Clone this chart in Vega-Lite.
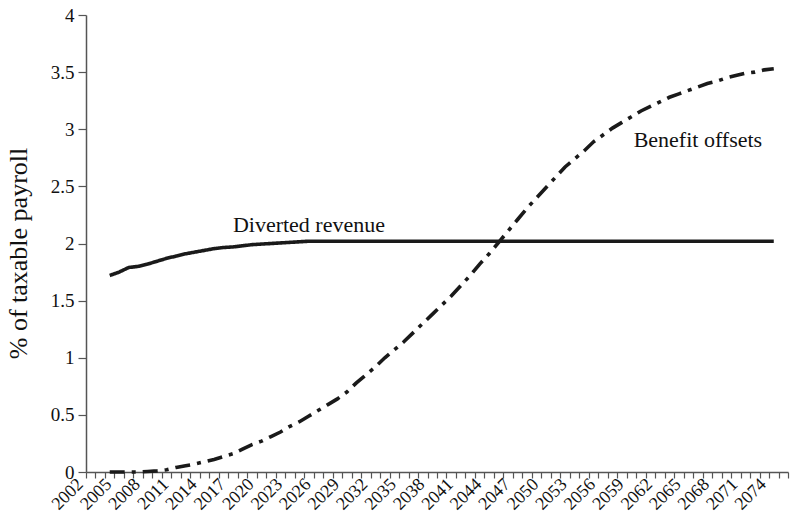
{
  "$schema": "https://vega.github.io/schema/vega-lite/v6.json",
  "width": 702,
  "height": 457,
  "autosize": {"type": "none"},
  "padding": {"left": 86, "top": 15, "right": 4, "bottom": 53},
  "background": "white",
  "config": {
    "view": {"stroke": null},
    "font": "Liberation Serif",
    "axis": {"grid": false, "domainColor": "#555", "tickColor": "#555", "domainWidth": 1.5, "tickWidth": 1.2, "labelColor": "#111", "titleColor": "#111", "labelFont": "Liberation Serif", "titleFont": "Liberation Serif", "titleFontWeight": "normal"}
  },
  "datasets": {
    "series": [
      {"year": 2004, "series": "Diverted revenue", "value": 1.72},
      {"year": 2005, "series": "Diverted revenue", "value": 1.75},
      {"year": 2006, "series": "Diverted revenue", "value": 1.79},
      {"year": 2007, "series": "Diverted revenue", "value": 1.80},
      {"year": 2008, "series": "Diverted revenue", "value": 1.82},
      {"year": 2009, "series": "Diverted revenue", "value": 1.845},
      {"year": 2010, "series": "Diverted revenue", "value": 1.87},
      {"year": 2011, "series": "Diverted revenue", "value": 1.89},
      {"year": 2012, "series": "Diverted revenue", "value": 1.91},
      {"year": 2013, "series": "Diverted revenue", "value": 1.925},
      {"year": 2014, "series": "Diverted revenue", "value": 1.94},
      {"year": 2015, "series": "Diverted revenue", "value": 1.955},
      {"year": 2016, "series": "Diverted revenue", "value": 1.965},
      {"year": 2017, "series": "Diverted revenue", "value": 1.97},
      {"year": 2018, "series": "Diverted revenue", "value": 1.98},
      {"year": 2019, "series": "Diverted revenue", "value": 1.99},
      {"year": 2020, "series": "Diverted revenue", "value": 1.995},
      {"year": 2021, "series": "Diverted revenue", "value": 2.0},
      {"year": 2022, "series": "Diverted revenue", "value": 2.005},
      {"year": 2023, "series": "Diverted revenue", "value": 2.01},
      {"year": 2024, "series": "Diverted revenue", "value": 2.015},
      {"year": 2025, "series": "Diverted revenue", "value": 2.02},
      {"year": 2026, "series": "Diverted revenue", "value": 2.02},
      {"year": 2027, "series": "Diverted revenue", "value": 2.02},
      {"year": 2028, "series": "Diverted revenue", "value": 2.02},
      {"year": 2029, "series": "Diverted revenue", "value": 2.02},
      {"year": 2030, "series": "Diverted revenue", "value": 2.02},
      {"year": 2031, "series": "Diverted revenue", "value": 2.02},
      {"year": 2032, "series": "Diverted revenue", "value": 2.02},
      {"year": 2033, "series": "Diverted revenue", "value": 2.02},
      {"year": 2034, "series": "Diverted revenue", "value": 2.02},
      {"year": 2035, "series": "Diverted revenue", "value": 2.02},
      {"year": 2036, "series": "Diverted revenue", "value": 2.02},
      {"year": 2037, "series": "Diverted revenue", "value": 2.02},
      {"year": 2038, "series": "Diverted revenue", "value": 2.02},
      {"year": 2039, "series": "Diverted revenue", "value": 2.02},
      {"year": 2040, "series": "Diverted revenue", "value": 2.02},
      {"year": 2041, "series": "Diverted revenue", "value": 2.02},
      {"year": 2042, "series": "Diverted revenue", "value": 2.02},
      {"year": 2043, "series": "Diverted revenue", "value": 2.02},
      {"year": 2044, "series": "Diverted revenue", "value": 2.02},
      {"year": 2045, "series": "Diverted revenue", "value": 2.02},
      {"year": 2046, "series": "Diverted revenue", "value": 2.02},
      {"year": 2047, "series": "Diverted revenue", "value": 2.02},
      {"year": 2048, "series": "Diverted revenue", "value": 2.02},
      {"year": 2049, "series": "Diverted revenue", "value": 2.02},
      {"year": 2050, "series": "Diverted revenue", "value": 2.02},
      {"year": 2051, "series": "Diverted revenue", "value": 2.02},
      {"year": 2052, "series": "Diverted revenue", "value": 2.02},
      {"year": 2053, "series": "Diverted revenue", "value": 2.02},
      {"year": 2054, "series": "Diverted revenue", "value": 2.02},
      {"year": 2055, "series": "Diverted revenue", "value": 2.02},
      {"year": 2056, "series": "Diverted revenue", "value": 2.02},
      {"year": 2057, "series": "Diverted revenue", "value": 2.02},
      {"year": 2058, "series": "Diverted revenue", "value": 2.02},
      {"year": 2059, "series": "Diverted revenue", "value": 2.02},
      {"year": 2060, "series": "Diverted revenue", "value": 2.02},
      {"year": 2061, "series": "Diverted revenue", "value": 2.02},
      {"year": 2062, "series": "Diverted revenue", "value": 2.02},
      {"year": 2063, "series": "Diverted revenue", "value": 2.02},
      {"year": 2064, "series": "Diverted revenue", "value": 2.02},
      {"year": 2065, "series": "Diverted revenue", "value": 2.02},
      {"year": 2066, "series": "Diverted revenue", "value": 2.02},
      {"year": 2067, "series": "Diverted revenue", "value": 2.02},
      {"year": 2068, "series": "Diverted revenue", "value": 2.02},
      {"year": 2069, "series": "Diverted revenue", "value": 2.02},
      {"year": 2070, "series": "Diverted revenue", "value": 2.02},
      {"year": 2071, "series": "Diverted revenue", "value": 2.02},
      {"year": 2072, "series": "Diverted revenue", "value": 2.02},
      {"year": 2073, "series": "Diverted revenue", "value": 2.02},
      {"year": 2074, "series": "Diverted revenue", "value": 2.02},
      {"year": 2004, "series": "Benefit offsets", "value": 0.0},
      {"year": 2005, "series": "Benefit offsets", "value": 0.0},
      {"year": 2006, "series": "Benefit offsets", "value": 0.0},
      {"year": 2007, "series": "Benefit offsets", "value": 0.0},
      {"year": 2008, "series": "Benefit offsets", "value": 0.005},
      {"year": 2009, "series": "Benefit offsets", "value": 0.01},
      {"year": 2010, "series": "Benefit offsets", "value": 0.02},
      {"year": 2011, "series": "Benefit offsets", "value": 0.04},
      {"year": 2012, "series": "Benefit offsets", "value": 0.055},
      {"year": 2013, "series": "Benefit offsets", "value": 0.07},
      {"year": 2014, "series": "Benefit offsets", "value": 0.09},
      {"year": 2015, "series": "Benefit offsets", "value": 0.11},
      {"year": 2016, "series": "Benefit offsets", "value": 0.135},
      {"year": 2017, "series": "Benefit offsets", "value": 0.16},
      {"year": 2018, "series": "Benefit offsets", "value": 0.2},
      {"year": 2019, "series": "Benefit offsets", "value": 0.24},
      {"year": 2020, "series": "Benefit offsets", "value": 0.27},
      {"year": 2021, "series": "Benefit offsets", "value": 0.31},
      {"year": 2022, "series": "Benefit offsets", "value": 0.35},
      {"year": 2023, "series": "Benefit offsets", "value": 0.4},
      {"year": 2024, "series": "Benefit offsets", "value": 0.44},
      {"year": 2025, "series": "Benefit offsets", "value": 0.49},
      {"year": 2026, "series": "Benefit offsets", "value": 0.54},
      {"year": 2027, "series": "Benefit offsets", "value": 0.59},
      {"year": 2028, "series": "Benefit offsets", "value": 0.64},
      {"year": 2029, "series": "Benefit offsets", "value": 0.7},
      {"year": 2030, "series": "Benefit offsets", "value": 0.78},
      {"year": 2031, "series": "Benefit offsets", "value": 0.85},
      {"year": 2032, "series": "Benefit offsets", "value": 0.92},
      {"year": 2033, "series": "Benefit offsets", "value": 1.0},
      {"year": 2034, "series": "Benefit offsets", "value": 1.07},
      {"year": 2035, "series": "Benefit offsets", "value": 1.14},
      {"year": 2036, "series": "Benefit offsets", "value": 1.22},
      {"year": 2037, "series": "Benefit offsets", "value": 1.3},
      {"year": 2038, "series": "Benefit offsets", "value": 1.38},
      {"year": 2039, "series": "Benefit offsets", "value": 1.46},
      {"year": 2040, "series": "Benefit offsets", "value": 1.54},
      {"year": 2041, "series": "Benefit offsets", "value": 1.63},
      {"year": 2042, "series": "Benefit offsets", "value": 1.72},
      {"year": 2043, "series": "Benefit offsets", "value": 1.82},
      {"year": 2044, "series": "Benefit offsets", "value": 1.91},
      {"year": 2045, "series": "Benefit offsets", "value": 2.01},
      {"year": 2046, "series": "Benefit offsets", "value": 2.11},
      {"year": 2047, "series": "Benefit offsets", "value": 2.21},
      {"year": 2048, "series": "Benefit offsets", "value": 2.31},
      {"year": 2049, "series": "Benefit offsets", "value": 2.4},
      {"year": 2050, "series": "Benefit offsets", "value": 2.49},
      {"year": 2051, "series": "Benefit offsets", "value": 2.58},
      {"year": 2052, "series": "Benefit offsets", "value": 2.67},
      {"year": 2053, "series": "Benefit offsets", "value": 2.74},
      {"year": 2054, "series": "Benefit offsets", "value": 2.81},
      {"year": 2055, "series": "Benefit offsets", "value": 2.89},
      {"year": 2056, "series": "Benefit offsets", "value": 2.95},
      {"year": 2057, "series": "Benefit offsets", "value": 3.01},
      {"year": 2058, "series": "Benefit offsets", "value": 3.06},
      {"year": 2059, "series": "Benefit offsets", "value": 3.11},
      {"year": 2060, "series": "Benefit offsets", "value": 3.16},
      {"year": 2061, "series": "Benefit offsets", "value": 3.2},
      {"year": 2062, "series": "Benefit offsets", "value": 3.24},
      {"year": 2063, "series": "Benefit offsets", "value": 3.28},
      {"year": 2064, "series": "Benefit offsets", "value": 3.31},
      {"year": 2065, "series": "Benefit offsets", "value": 3.34},
      {"year": 2066, "series": "Benefit offsets", "value": 3.37},
      {"year": 2067, "series": "Benefit offsets", "value": 3.4},
      {"year": 2068, "series": "Benefit offsets", "value": 3.42},
      {"year": 2069, "series": "Benefit offsets", "value": 3.45},
      {"year": 2070, "series": "Benefit offsets", "value": 3.47},
      {"year": 2071, "series": "Benefit offsets", "value": 3.49},
      {"year": 2072, "series": "Benefit offsets", "value": 3.5},
      {"year": 2073, "series": "Benefit offsets", "value": 3.52},
      {"year": 2074, "series": "Benefit offsets", "value": 3.53}
    ],
    "labels": [
      {"year": 2025, "value": 2.16, "text": "Diverted revenue"},
      {"year": 2066, "value": 2.91, "text": "Benefit offsets"}
    ]
  },
  "layer": [
    {
      "data": {"name": "series"},
      "mark": {"type": "line", "color": "#1a1a1a", "strokeWidth": 3.6, "strokeCap": "butt"},
      "encoding": {
        "x": {
          "field": "year", "type": "ordinal",
          "scale": {"type": "band", "paddingInner": 0, "paddingOuter": 0,
            "domain": [2002,2003,2004,2005,2006,2007,2008,2009,2010,2011,2012,2013,2014,2015,2016,2017,2018,2019,2020,2021,2022,2023,2024,2025,2026,2027,2028,2029,2030,2031,2032,2033,2034,2035,2036,2037,2038,2039,2040,2041,2042,2043,2044,2045,2046,2047,2048,2049,2050,2051,2052,2053,2054,2055,2056,2057,2058,2059,2060,2061,2062,2063,2064,2065,2066,2067,2068,2069,2070,2071,2072,2073,2074,2075]},
          "axis": {
            "title": null,
            "tickBand": "extent",
            "tickSize": 6,
            "labelAngle": -45,
            "labelAlign": "right",
            "labelBaseline": "top",
            "labelPadding": -3,
            "labelOffset": -17,
            "labelFontSize": 18,
            "labelOverlap": false,
            "labelBound": false,
            "labelExpr": "(datum.value - 2002) % 3 == 0 ? '' + datum.value : ''"
          }
        },
        "y": {
          "field": "value", "type": "quantitative",
          "scale": {"domain": [0, 4], "nice": false, "zero": true},
          "axis": {
            "title": "% of taxable payroll",
            "values": [0, 0.5, 1, 1.5, 2, 2.5, 3, 3.5, 4],
            "format": "~g",
            "tickSize": 8,
            "labelPadding": 4,
            "labelFontSize": 19,
            "titleFontSize": 26,
            "titleX": -68,
            "titleY": 238,
            "titleAlign": "center",
            "titleBaseline": "middle",
            "titleAngle": -90
          }
        },
        "detail": {"field": "series"},
        "strokeDash": {
          "field": "series", "type": "nominal",
          "scale": {"domain": ["Diverted revenue", "Benefit offsets"], "range": [[1, 0], [15, 7, 4, 7]]},
          "legend": null
        }
      }
    },
    {
      "data": {"name": "labels"},
      "mark": {"type": "text", "font": "Liberation Serif", "fontSize": 22, "color": "#111", "align": "center", "baseline": "middle"},
      "encoding": {
        "x": {"field": "year", "type": "ordinal"},
        "y": {"field": "value", "type": "quantitative"},
        "text": {"field": "text"}
      }
    }
  ]
}
